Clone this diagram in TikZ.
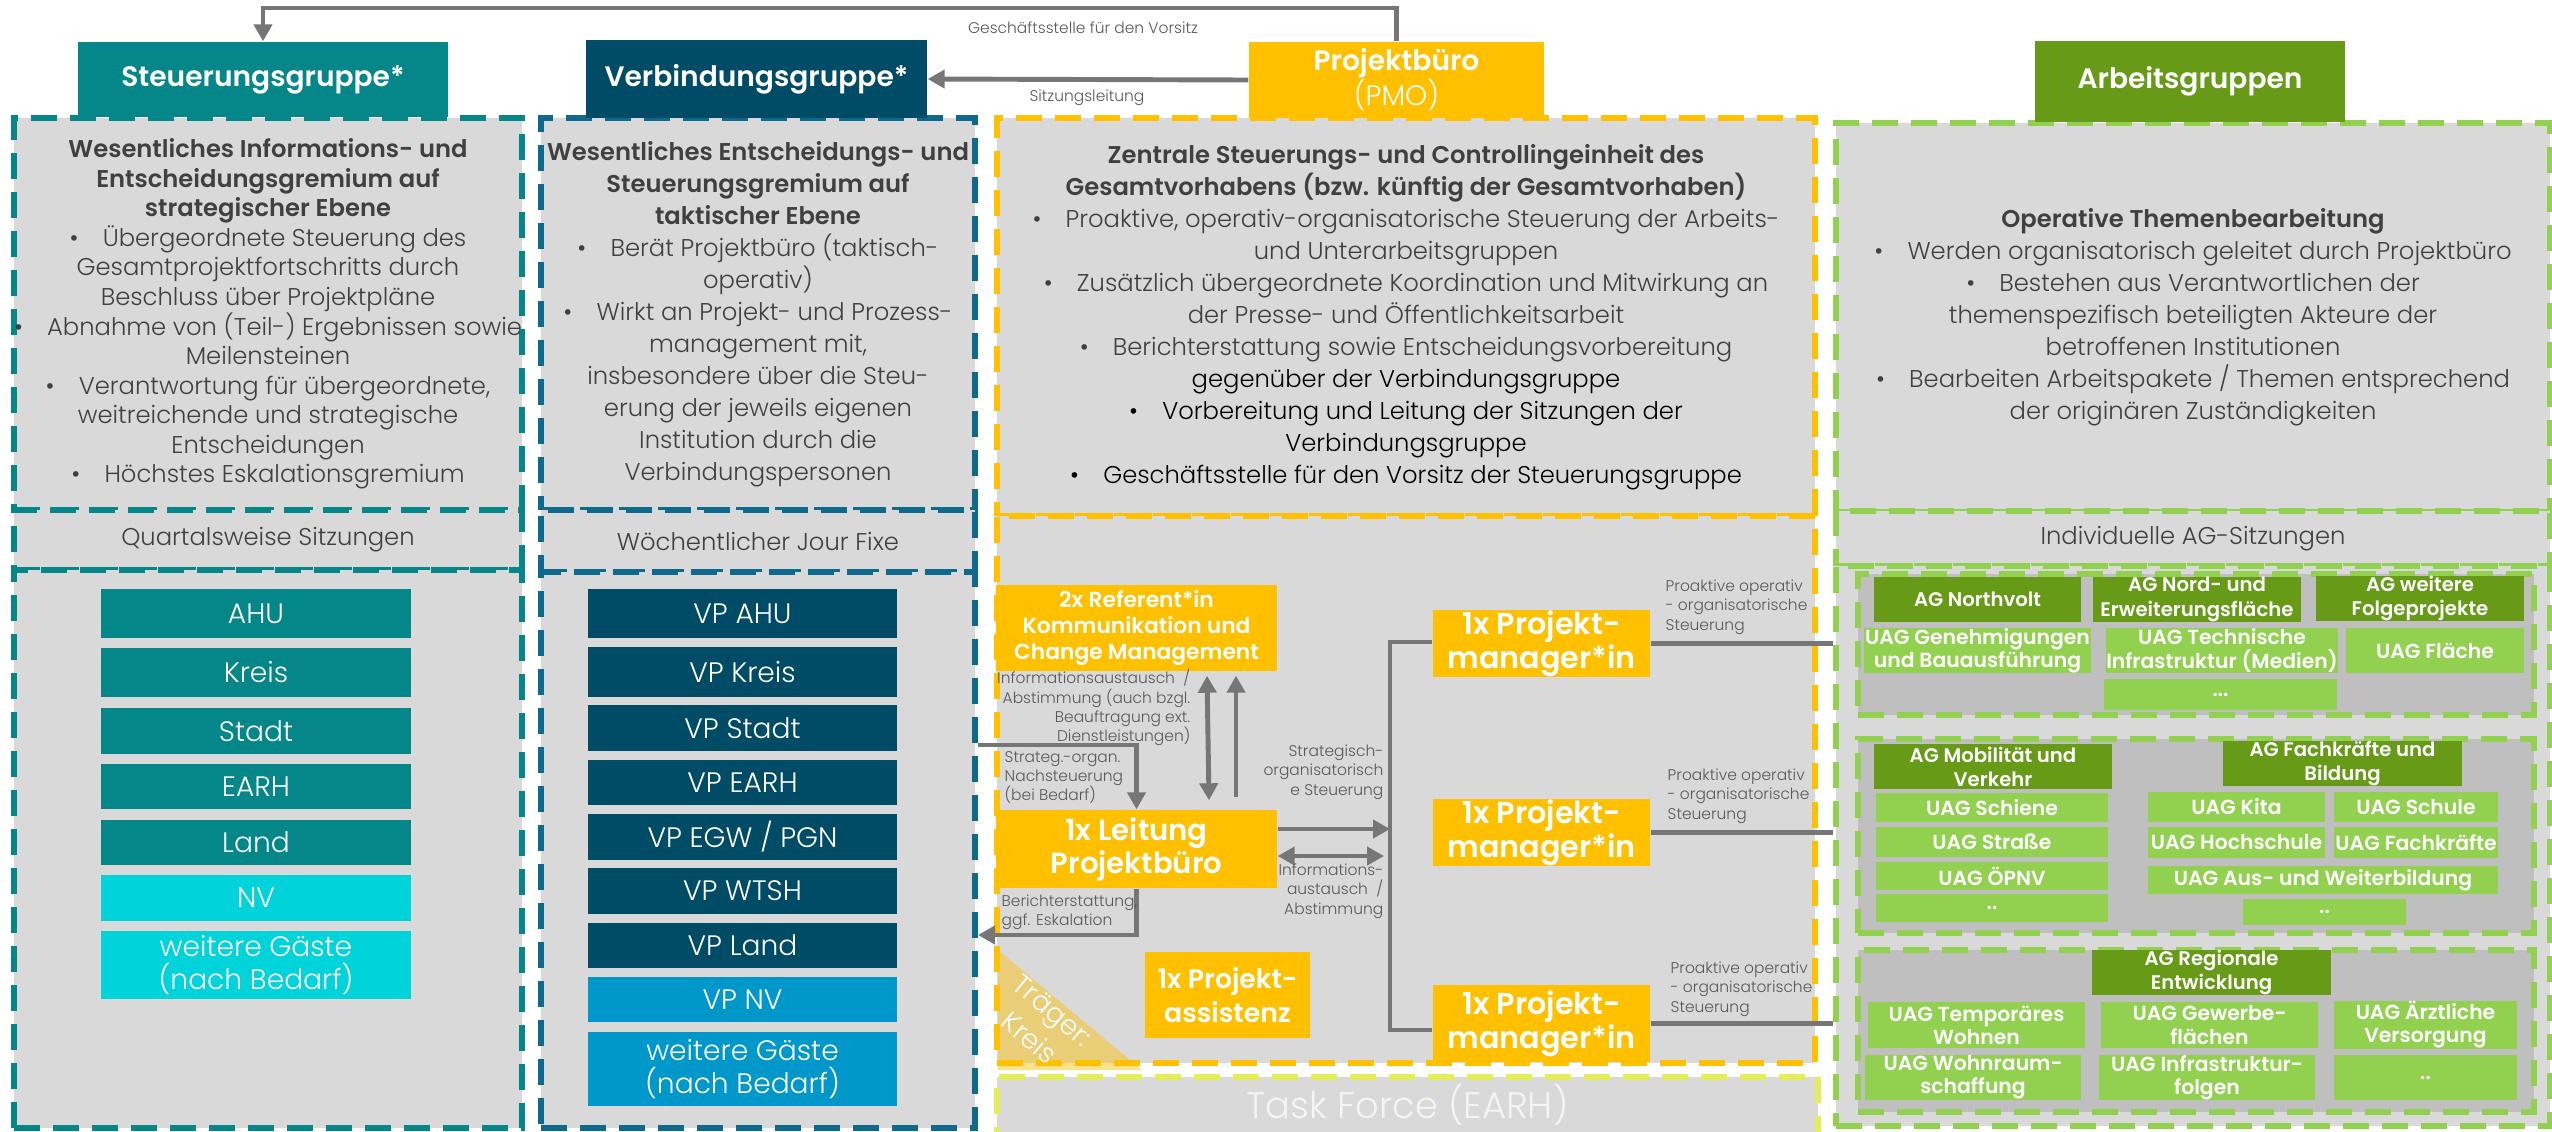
\documentclass[tikz,border=0pt]{standalone}
\usepackage{fontspec}
\setmainfont{Poppins Light}[BoldFont={Poppins SemiBold}]
\usetikzlibrary{arrows.meta,positioning}

\definecolor{sgteal}{HTML}{05878A}
\definecolor{sgcyan}{HTML}{00D4DA}
\definecolor{vgnavy}{HTML}{004C66}
\definecolor{vgblue}{HTML}{0097CB}
\definecolor{vgline}{HTML}{0D6A8C}
\definecolor{pmoyellow}{HTML}{FFC000}
\definecolor{tflime}{HTML}{E5ED5A}
\definecolor{agdark}{HTML}{669A17}
\definecolor{aglight}{HTML}{92D050}
\definecolor{panelgray}{HTML}{D9D9D9}
\definecolor{groupgray}{HTML}{BFBFBF}
\definecolor{arrowgray}{HTML}{767676}
\definecolor{textgray}{HTML}{404040}
\definecolor{notegray}{HTML}{595959}
\definecolor{taskwhite}{HTML}{F4F4F4}

\begin{document}
\begin{tikzpicture}
	% Styles
	[
	x=1cm,y=-1cm,
	>={Triangle[length=1.7mm,width=1.8mm]},
	panel/.style={draw,fill=panelgray,line width=1.7pt,dash pattern=on 2.6mm off 1.3mm,inner sep=0pt},
	head/.style={text=white,inner sep=0pt,align=center,font=\fontsize{8}{10}\selectfont\bfseries},
	desc/.style={text=textgray,align=center,font=\fontsize{6.9}{9.1}\selectfont},
	session/.style={text=textgray,font=\fontsize{6.9}{8}\selectfont},
	member/.style={text=white,inner sep=0pt,align=center,font=\fontsize{8}{9.6}\selectfont},
	team/.style={fill=pmoyellow,text=white,inner sep=0pt,align=center},
	group/.style={draw=aglight,fill=groupgray,line width=1.7pt,dash pattern=on 2.6mm off 1.3mm,inner sep=0pt},
	agbox/.style={fill=agdark,text=white,inner sep=0pt,align=center,font=\fontsize{5.6}{6.9}\selectfont\bfseries},
	uagbox/.style={fill=aglight,text=white,inner sep=0pt,align=center,font=\fontsize{5.8}{6.6}\selectfont\bfseries},
	flow/.style={draw=arrowgray,line width=1.4pt},
	note/.style={text=notegray,inner sep=0pt,font=\fontsize{4.4}{5.5}\selectfont},
	]

	\useasboundingbox (0,0) rectangle (25.52,11.31);

	% Panels
	\node at (2.68,3.14) (sgdesc) [panel,draw=sgteal,minimum width=5.08cm,minimum height=3.92cm,desc,font=\fontsize{6.9}{8.4}\selectfont]
		{\textbf{Wesentliches Informations- und}\\\textbf{Entscheidungsgremium auf}\\\textbf{strategischer Ebene}\\
		\textbullet\quad Übergeordnete Steuerung des\\Gesamtprojektfortschritts durch\\Beschluss über Projektpläne\\
		\textbullet\quad Abnahme von (Teil-) Ergebnissen sowie\\Meilensteinen\\
		\textbullet\quad Verantwortung für übergeordnete,\\weitreichende und strategische\\Entscheidungen\\
		\textbullet\quad Höchstes Eskalationsgremium};
	\node at (7.58,3.14) (vgdesc) [panel,draw=vgline,minimum width=4.34cm,minimum height=3.92cm,desc]
		{\textbf{Wesentliches Entscheidungs- und}\\\textbf{Steuerungsgremium auf}\\\textbf{taktischer Ebene}\\
		\textbullet\quad Berät Projektbüro (taktisch-\\operativ)\\
		\textbullet\quad Wirkt an Projekt- und Prozess-\\management mit,\\insbesondere über die Steu-\\erung der jeweils eigenen\\Institution durch die\\Verbindungspersonen};
	\node at (14.06,3.17) (pmodesc) [panel,draw=pmoyellow,minimum width=8.18cm,minimum height=3.98cm,desc]
		{\textbf{Zentrale Steuerungs- und Controllingeinheit des}\\\textbf{Gesamtvorhabens (bzw. künftig der Gesamtvorhaben)}\\
		\textbullet\quad Proaktive, operativ-organisatorische Steuerung der Arbeits-\\und Unterarbeitsgruppen\\
		\textbullet\quad Zusätzlich übergeordnete Koordination und Mitwirkung an\\der Presse- und Öffentlichkeitsarbeit\\
		\textbullet\quad Berichterstattung sowie Entscheidungsvorbereitung\\\textcolor{black}{gegenüber der Verbindungsgruppe}\\
		\textcolor{black}{\textbullet\quad Vorbereitung und Leitung der Sitzungen der}\\\textcolor{black}{Verbindungsgruppe}\\
		\textcolor{black}{\textbullet\quad Geschäftsstelle für den Vorsitz der Steuerungsgruppe}};
	\node at (21.93,3.175) (agdesc) [panel,draw=aglight,minimum width=7.14cm,minimum height=3.89cm,desc]
		{\textbf{Operative Themenbearbeitung}\\
		\textbullet\quad Werden organisatorisch geleitet durch Projektbüro\\
		\textbullet\quad Bestehen aus Verantwortlichen der\\themenspezifisch beteiligten Akteure der\\betroffenen Institutionen\\
		\textbullet\quad Bearbeiten Arbeitspakete / Themen entsprechend\\der originären Zuständigkeiten};

	\node at (2.68,5.40) (sgsess) [panel,draw=sgteal,minimum width=5.08cm,minimum height=0.60cm,session] {Quartalsweise Sitzungen};
	\node at (7.58,5.41) (vgsess) [panel,draw=vgline,minimum width=4.34cm,minimum height=0.62cm,session] {Wöchentlicher Jour Fixe};
	\node at (21.93,5.385) (agsess) [panel,draw=aglight,minimum width=7.14cm,minimum height=0.55cm,session] {Individuelle AG-Sitzungen};

	\node at (2.68,8.49) (sglist) [panel,draw=sgteal,minimum width=5.08cm,minimum height=5.58cm] {};
	\node at (7.58,8.50) (vglist) [panel,draw=vgline,minimum width=4.34cm,minimum height=5.56cm] {};
	\node at (14.06,7.895) (pmoteam) [panel,draw=pmoyellow,minimum width=8.18cm,minimum height=5.47cm] {};
	\node at (14.075,11.085) (taskforce) [panel,draw=tflime,minimum width=8.21cm,minimum height=0.63cm] {};
	\node at (14.075,11.05) (tflabel) [text=taskwhite,inner sep=0pt,font=\fontsize{10.5}{12}\selectfont] {Task Force (EARH)};
	\node at (21.93,8.46) (aglist) [panel,draw=aglight,minimum width=7.14cm,minimum height=5.60cm] {};

	% Headers
	\node at (2.63,0.795) (sg) [head,fill=sgteal,minimum width=3.70cm,minimum height=0.75cm] {Steuerungsgruppe*};
	\node at (7.565,0.79) (vg) [head,fill=vgnavy,minimum width=3.41cm,minimum height=0.78cm] {Verbindungsgruppe*};
	\node at (13.965,0.80) (pmo) [head,fill=pmoyellow,minimum width=2.95cm,minimum height=0.76cm] {Projektbüro\\\textmd{(PMO)}};
	\node at (21.90,0.815) (ag) [head,fill=agdark,minimum width=3.10cm,minimum height=0.81cm] {Arbeitsgruppen};

	% Steuerungsgruppe members
	\node at (2.56,6.135) (ahu) [member,fill=sgteal,minimum width=3.10cm,minimum height=0.49cm] {AHU};
	\node at (2.56,6.725) (kreis) [member,fill=sgteal,minimum width=3.10cm,minimum height=0.49cm] {Kreis};
	\node at (2.56,7.31) (stadt) [member,fill=sgteal,minimum width=3.10cm,minimum height=0.46cm] {Stadt};
	\node at (2.56,7.865) (earh) [member,fill=sgteal,minimum width=3.10cm,minimum height=0.45cm] {EARH};
	\node at (2.56,8.425) (land) [member,fill=sgteal,minimum width=3.10cm,minimum height=0.45cm] {Land};
	\node at (2.56,8.98) (nv) [member,fill=sgcyan,minimum width=3.10cm,minimum height=0.46cm] {NV};
	\node at (2.56,9.65) (gaeste) [member,fill=sgcyan,minimum width=3.10cm,minimum height=0.68cm] {weitere Gäste\\(nach Bedarf)};

	% Verbindungsgruppe members
	\node at (7.425,6.135) (vpahu) [member,fill=vgnavy,minimum width=3.09cm,minimum height=0.49cm] {VP AHU};
	\node at (7.425,6.72) (vpkreis) [member,fill=vgnavy,minimum width=3.09cm,minimum height=0.50cm] {VP Kreis};
	\node at (7.425,7.28) (vpstadt) [member,fill=vgnavy,minimum width=3.09cm,minimum height=0.46cm] {VP Stadt};
	\node at (7.425,7.825) (vpearh) [member,fill=vgnavy,minimum width=3.09cm,minimum height=0.45cm] {VP EARH};
	\node at (7.425,8.37) (vpegw) [member,fill=vgnavy,minimum width=3.09cm,minimum height=0.46cm] {VP EGW / PGN};
	\node at (7.425,8.91) (vpwtsh) [member,fill=vgnavy,minimum width=3.09cm,minimum height=0.46cm] {VP WTSH};
	\node at (7.425,9.455) (vpland) [member,fill=vgnavy,minimum width=3.09cm,minimum height=0.45cm] {VP Land};
	\node at (7.425,9.995) (vpnv) [member,fill=vgblue,minimum width=3.09cm,minimum height=0.45cm] {VP NV};
	\node at (7.425,10.69) (vpgaeste) [member,fill=vgblue,minimum width=3.09cm,minimum height=0.74cm] {weitere Gäste\\(nach Bedarf)};

	% Project office team
	\fill[pmoyellow,opacity=0.45] (9.98,9.50) -- (9.98,10.70) -- (11.42,10.70) -- cycle;
	\node at (10.41,10.24) (traeger) [rotate=-40,text=white,inner sep=0pt,align=center,font=\fontsize{7.8}{10.2}\selectfont] {Träger:\\Kreis};
	\node at (11.365,6.28) (ref) [team,minimum width=2.81cm,minimum height=0.86cm,font=\fontsize{6.2}{7.3}\selectfont\bfseries] {2x Referent*in\\Kommunikation und\\Change Management};
	\node at (11.365,8.49) (lead) [team,minimum width=2.81cm,minimum height=0.78cm,font=\fontsize{8.3}{9.4}\selectfont\bfseries] {1x Leitung\\Projektbüro};
	\node at (12.275,9.95) (assist) [team,minimum width=1.65cm,minimum height=0.86cm,font=\fontsize{7.6}{9.6}\selectfont\bfseries] {1x Projekt-\\assistenz};
	\node at (15.415,6.435) (pm1) [team,minimum width=2.17cm,minimum height=0.65cm,font=\fontsize{8.6}{9.7}\selectfont\bfseries] {1x Projekt-\\manager*in};
	\node at (15.415,8.325) (pm2) [team,minimum width=2.17cm,minimum height=0.67cm,font=\fontsize{8.6}{9.7}\selectfont\bfseries] {1x Projekt-\\manager*in};
	\node at (15.415,10.235) (pm3) [team,minimum width=2.17cm,minimum height=0.77cm,font=\fontsize{8.6}{9.7}\selectfont\bfseries] {1x Projekt-\\manager*in};

	% Working groups
	\node at (21.96,6.445) (g1) [group,minimum width=6.76cm,minimum height=1.41cm] {};
	\node at (21.96,8.36) (g2) [group,minimum width=6.76cm,minimum height=1.94cm] {};
	\node at (21.96,10.31) (g3) [group,minimum width=6.76cm,minimum height=1.62cm] {};

	\node at (19.775,5.995) (northvolt) [agbox,minimum width=2.07cm,minimum height=0.45cm] {AG Northvolt};
	\node at (21.97,5.995) (nordflaeche) [agbox,minimum width=2.08cm,minimum height=0.45cm] {AG Nord- und\\Erweiterungsfläche};
	\node at (24.20,5.985) (folge) [agbox,minimum width=2.08cm,minimum height=0.45cm] {AG weitere\\Folgeprojekte};
	\node at (19.775,6.505) (genehm) [uagbox,minimum width=2.27cm,minimum height=0.45cm] {UAG Genehmigungen\\und Bauausführung};
	\node at (22.22,6.505) (technik) [uagbox,minimum width=2.32cm,minimum height=0.45cm] {UAG Technische\\Infrastruktur (Medien)};
	\node at (24.35,6.505) (flaeche) [uagbox,minimum width=1.78cm,minimum height=0.45cm] {UAG Fläche};
	\node at (22.205,6.945) (more1) [uagbox,minimum width=2.33cm,minimum height=0.31cm] {...};

	\node at (19.93,7.665) (mobil) [agbox,minimum width=2.38cm,minimum height=0.45cm] {AG Mobilität und\\Verkehr};
	\node at (23.425,7.635) (fachbild) [agbox,minimum width=2.39cm,minimum height=0.45cm] {AG Fachkräfte und\\Bildung};
	\node at (19.92,8.075) (schiene) [uagbox,minimum width=2.32cm,minimum height=0.29cm] {UAG Schiene};
	\node at (19.92,8.42) (strasse) [uagbox,minimum width=2.32cm,minimum height=0.30cm] {UAG Straße};
	\node at (19.92,8.76) (oepnv) [uagbox,minimum width=2.32cm,minimum height=0.28cm] {UAG ÖPNV};
	\node at (19.92,9.08) (more2) [uagbox,minimum width=2.32cm,minimum height=0.28cm] {..};
	\node at (22.365,8.07) (kita) [uagbox,minimum width=1.77cm,minimum height=0.30cm] {UAG Kita};
	\node at (24.16,8.07) (schule) [uagbox,minimum width=1.64cm,minimum height=0.30cm] {UAG Schule};
	\node at (22.365,8.425) (hochschule) [uagbox,minimum width=1.77cm,minimum height=0.31cm] {UAG Hochschule};
	\node at (24.16,8.425) (fachkraefte) [uagbox,minimum width=1.64cm,minimum height=0.31cm] {UAG Fachkräfte};
	\node at (23.23,8.80) (weiterbildung) [uagbox,minimum width=3.50cm,minimum height=0.28cm] {UAG Aus- und Weiterbildung};
	\node at (23.245,9.12) (more3) [uagbox,minimum width=1.63cm,minimum height=0.26cm] {..};

	\node at (22.115,9.725) (regional) [agbox,minimum width=2.39cm,minimum height=0.45cm] {AG Regionale\\Entwicklung};
	\node at (19.765,10.25) (wohnen) [uagbox,minimum width=2.17cm,minimum height=0.46cm] {UAG Temporäres\\Wohnen};
	\node at (22.095,10.25) (gewerbe) [uagbox,minimum width=2.17cm,minimum height=0.46cm] {UAG Gewerbe-\\flächen};
	\node at (24.255,10.25) (arzt) [uagbox,minimum width=1.83cm,minimum height=0.46cm] {UAG Ärztliche\\Versorgung};
	\node at (19.73,10.775) (wohnraum) [uagbox,minimum width=2.16cm,minimum height=0.45cm] {UAG Wohnraum-\\schaffung};
	\node at (22.07,10.775) (folgen) [uagbox,minimum width=2.16cm,minimum height=0.45cm] {UAG Infrastruktur-\\folgen};
	\node at (24.255,10.775) (more4) [uagbox,minimum width=1.83cm,minimum height=0.45cm] {..};

	% Arrows
	\coordinate (vorsitz) at (13.965,0.08);
	\draw[flow,->] (pmo.north) -- (vorsitz) -| (sg.north);
	\draw[flow,->] (pmo.west) -- (vg.east);

	\coordinate (nachsteuerung) at (11.365,7.45);
	\coordinate (eskalation) at (11.365,9.35);
	\draw[flow,->] (vglist.east |- nachsteuerung) -| (lead.north);
	\draw[flow,->] (lead.south) |- (vglist.east |- eskalation);

	\draw[flow,<->] ([xshift=7.05mm,yshift=-0.4mm]ref.south) -- ([xshift=7.25mm,yshift=0.9mm]lead.north);
	\draw[flow,->] ([xshift=9.95mm,yshift=1.2mm]lead.north) -- ([xshift=9.95mm,yshift=-0.4mm]ref.south);

	\coordinate (bustop) at (13.90,6.42);
	\coordinate (busbot) at (13.90,10.30);
	\coordinate (steer) at (13.90,8.29);
	\coordinate (info) at (13.84,8.56);
	\draw[flow] (pm1.west |- bustop) -- (bustop) -- (busbot) -- (pm3.west |- busbot);
	\draw[flow,->] (lead.east |- steer) -- (steer);
	\draw[flow,<->] (lead.east |- info) -- (info);

	\draw[flow] (pm1.east) -- (pm1.east -| aglist.west);
	\draw[flow] (pm2.east) -- (pm2.east -| aglist.west);
	\draw[flow] (pm3.east) -- (pm3.east -| aglist.west);

	% Text
	\node at (10.83,0.28) (vorsitzlabel) [note] {Geschäftsstelle für den Vorsitz};
	\node at (10.87,0.98) (sitzunglabel) [note] {Sitzungsleitung};
	\node at (11.91,7.075) (abstlabel) [note,anchor=east,align=right] {Informationsaustausch~~/\\Abstimmung (auch bzgl.\\Beauftragung ext.\\Dienstleistungen)};
	\node at (10.04,7.775) (nachlabel) [note,anchor=west,align=left] {Strateg.-organ.\\Nachsteuerung\\(bei Bedarf)};
	\node at (10.01,9.125) (berichtlabel) [note,anchor=west,align=left] {Berichterstattung,\\ggf. Eskalation};
	\node at (13.84,7.72) (steuerlabel) [note,anchor=east,align=right] {Strategisch-\\organisatorisch\\e Steuerung};
	\node at (13.84,8.91) (infolabel) [note,anchor=east,align=right] {Informations-\\austausch~~/\\Abstimmung};
	\node at (16.65,6.07) (pm1label) [note,anchor=west,align=left] {Proaktive operativ\\- organisatorische\\Steuerung};
	\node at (16.67,7.96) (pm2label) [note,anchor=west,align=left] {Proaktive operativ\\- organisatorische\\Steuerung};
	\node at (16.70,9.89) (pm3label) [note,anchor=west,align=left] {Proaktive operativ\\- organisatorische\\Steuerung};
\end{tikzpicture}
\end{document}
